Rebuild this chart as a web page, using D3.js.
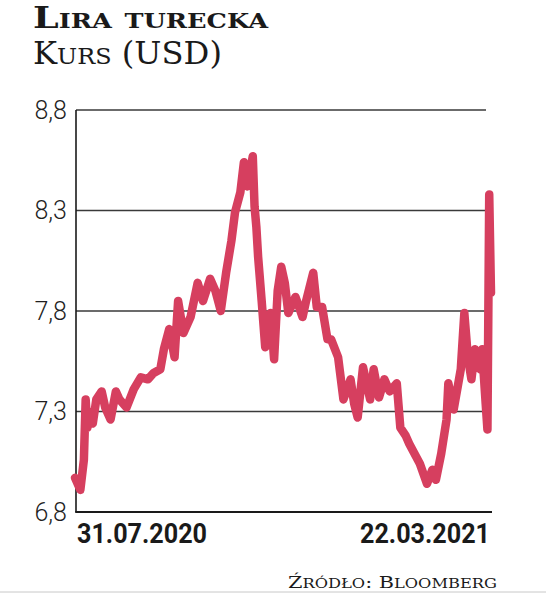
<!DOCTYPE html>
<html>
<head>
<meta charset="utf-8">
<script src="https://cdn.jsdelivr.net/npm/d3@7"></script>
<style>
  html, body { margin: 0; padding: 0; background: #fff; }
  svg { display: block; }
</style>
</head>
<body>
<svg id="chart" width="546" height="593"></svg>
<script>
// ---- data ----
const dates = [
  "2020-07-31","2020-08-02","2020-08-03","2020-08-05","2020-08-06","2020-08-07","2020-08-08","2020-08-10","2020-08-12",
  "2020-08-15","2020-08-17","2020-08-20","2020-08-23","2020-08-25","2020-08-29","2020-09-02","2020-09-06",
  "2020-09-10","2020-09-13","2020-09-17","2020-09-19","2020-09-22","2020-09-25","2020-09-27","2020-09-30",
  "2020-10-04","2020-10-08","2020-10-11","2020-10-15","2020-10-18","2020-10-21","2020-10-24","2020-10-27",
  "2020-10-29","2020-11-01","2020-11-03","2020-11-05","2020-11-08","2020-11-09","2020-11-10","2020-11-11",
  "2020-11-13","2020-11-15","2020-11-18","2020-11-20","2020-11-22","2020-11-24","2020-11-26","2020-11-28",
  "2020-12-02","2020-12-06","2020-12-08","2020-12-12","2020-12-14","2020-12-17","2020-12-20","2020-12-22",
  "2020-12-26","2020-12-29","2021-01-02","2021-01-04","2021-01-06","2021-01-09","2021-01-13","2021-01-15",
  "2021-01-18","2021-01-21","2021-01-24","2021-01-28","2021-01-30","2021-02-02","2021-02-04","2021-02-07","2021-02-10","2021-02-14","2021-02-17",
  "2021-02-19","2021-02-22","2021-02-25","2021-02-26","2021-03-01","2021-03-05","2021-03-07","2021-03-09",
  "2021-03-11","2021-03-13","2021-03-16","2021-03-17","2021-03-19","2021-03-20","2021-03-21","2021-03-22"
];
const rates = [
  6.97,6.93,6.91,7.06,7.36,7.22,7.30,7.24,7.36,
  7.40,7.32,7.26,7.40,7.36,7.32,7.41,7.47,
  7.46,7.49,7.51,7.61,7.71,7.57,7.85,7.69,
  7.77,7.94,7.85,7.96,7.90,7.80,7.99,8.15,
  8.29,8.39,8.54,8.42,8.57,8.32,8.22,8.07,
  7.85,7.62,7.79,7.56,7.90,8.02,7.94,7.79,
  7.87,7.77,7.85,7.99,7.82,7.82,7.66,7.66,
  7.57,7.36,7.46,7.34,7.27,7.52,7.36,7.51,
  7.37,7.46,7.40,7.44,7.22,7.18,7.14,7.09,7.04,6.94,7.01,
  6.96,7.09,7.26,7.44,7.31,7.51,7.79,7.57,
  7.46,7.61,7.51,7.61,7.34,7.21,8.38,7.89
];
const yTicks = [6.8, 7.3, 7.8, 8.3, 8.8];
const xTickLabels = ["31.07.2020", "22.03.2021"];
const titleText = "Lira turecka";
const subtitleText = "Kurs (USD)";
const sourceText = "Źródło: Bloomberg";

// ---- chart ----
const svg = d3.select("#chart");
const parse = d3.timeParse("%Y-%m-%d");
const data = dates.map((d, i) => ({ date: parse(d), value: rates[i] }));

const plotLeft = 76, plotRight = 486, axisRight = 492;
const x = d3.scaleTime()
  .domain([parse("2020-07-31"), parse("2021-03-22")])
  .range([75, 491]);
const y = d3.scaleLinear().domain([6.8, 8.8]).range([512, 110]);

// gridlines
svg.append("g").selectAll("line")
  .data(yTicks.filter(t => t > 6.8))
  .join("line")
  .attr("x1", plotLeft).attr("x2", plotRight)
  .attr("y1", d => y(d)).attr("y2", d => y(d))
  .attr("stroke", "#3a3a3a").attr("stroke-width", 1.3);

// y axis labels
const fmt = d => d.toFixed(1).replace(".", ",");
svg.append("g").selectAll("text")
  .data(yTicks)
  .join("text")
  .attr("x", 67).attr("y", d => y(d))
  .attr("text-anchor", "end")
  .attr("dominant-baseline", "central")
  .attr("font-family", "Roboto, 'DejaVu Sans', sans-serif")
  .attr("font-weight", 300)
  .attr("font-size", 25)
  .attr("fill", "#1f1f1f")
  .text(fmt);

// axes lines
svg.append("line")
  .attr("x1", plotLeft).attr("x2", plotLeft)
  .attr("y1", y(8.8)).attr("y2", y(6.8))
  .attr("stroke", "#1a1a1a").attr("stroke-width", 1.6);
svg.append("line")
  .attr("x1", plotLeft - 0.8).attr("x2", axisRight)
  .attr("y1", y(6.8)).attr("y2", y(6.8))
  .attr("stroke", "#1a1a1a").attr("stroke-width", 2);

// series line
const line = d3.line().x(d => x(d.date)).y(d => y(d.value));
svg.append("path")
  .datum(data)
  .attr("d", line)
  .attr("fill", "none")
  .attr("stroke", "#d63f5f")
  .attr("stroke-width", 8.5)
  .attr("stroke-linejoin", "round")
  .attr("stroke-linecap", "round");

// x labels
svg.append("text")
  .attr("x", 77).attr("y", 543)
  .attr("text-anchor", "start")
  .attr("font-family", "Roboto, 'DejaVu Sans', sans-serif")
  .attr("font-weight", 700).attr("font-size", 27)
  .attr("fill", "#1a1a1a")
  .attr("textLength", 130).attr("lengthAdjust", "spacingAndGlyphs")
  .text(xTickLabels[0]);
svg.append("text")
  .attr("x", 490).attr("y", 543)
  .attr("text-anchor", "end")
  .attr("font-family", "Roboto, 'DejaVu Sans', sans-serif")
  .attr("font-weight", 700).attr("font-size", 27)
  .attr("fill", "#1a1a1a")
  .attr("textLength", 130).attr("lengthAdjust", "spacingAndGlyphs")
  .text(xTickLabels[1]);

// small caps helper
function smallCaps(sel, text, big, small) {
  for (const ch of text) {
    const isLetter = ch.toLowerCase() !== ch.toUpperCase();
    const isUpper = isLetter && ch === ch.toUpperCase();
    const useBig = !isLetter || isUpper;
    sel.append("tspan")
      .attr("font-size", useBig ? big : small)
      .text(isLetter ? ch.toUpperCase() : ch);
  }
}

// title
const title = svg.append("text")
  .attr("x", 33).attr("y", 28)
  .attr("font-family", "'DejaVu Serif', serif")
  .attr("font-weight", 700)
  .attr("fill", "#1a1a1a")
  .attr("textLength", 235).attr("lengthAdjust", "spacingAndGlyphs");
smallCaps(title, titleText, 30, 21);

const sub = svg.append("text")
  .attr("x", 33).attr("y", 64)
  .attr("font-family", "'DejaVu Serif', serif")
  .attr("font-weight", 400)
  .attr("fill", "#1a1a1a")
  .attr("textLength", 189).attr("lengthAdjust", "spacingAndGlyphs");
smallCaps(sub, subtitleText, 31, 23);

// source
const src = svg.append("text")
  .attr("x", 288).attr("y", 588)
  .attr("font-family", "'DejaVu Serif', serif")
  .attr("font-weight", 400)
  .attr("fill", "#1a1a1a")
  .attr("textLength", 209).attr("lengthAdjust", "spacingAndGlyphs");
smallCaps(src, sourceText, 16, 12.5);

// bottom rule
svg.append("line")
  .attr("x1", 0).attr("x2", 546).attr("y1", 592).attr("y2", 592)
  .attr("stroke", "#c8c8c8").attr("stroke-width", 1);
</script>
</body>
</html>
